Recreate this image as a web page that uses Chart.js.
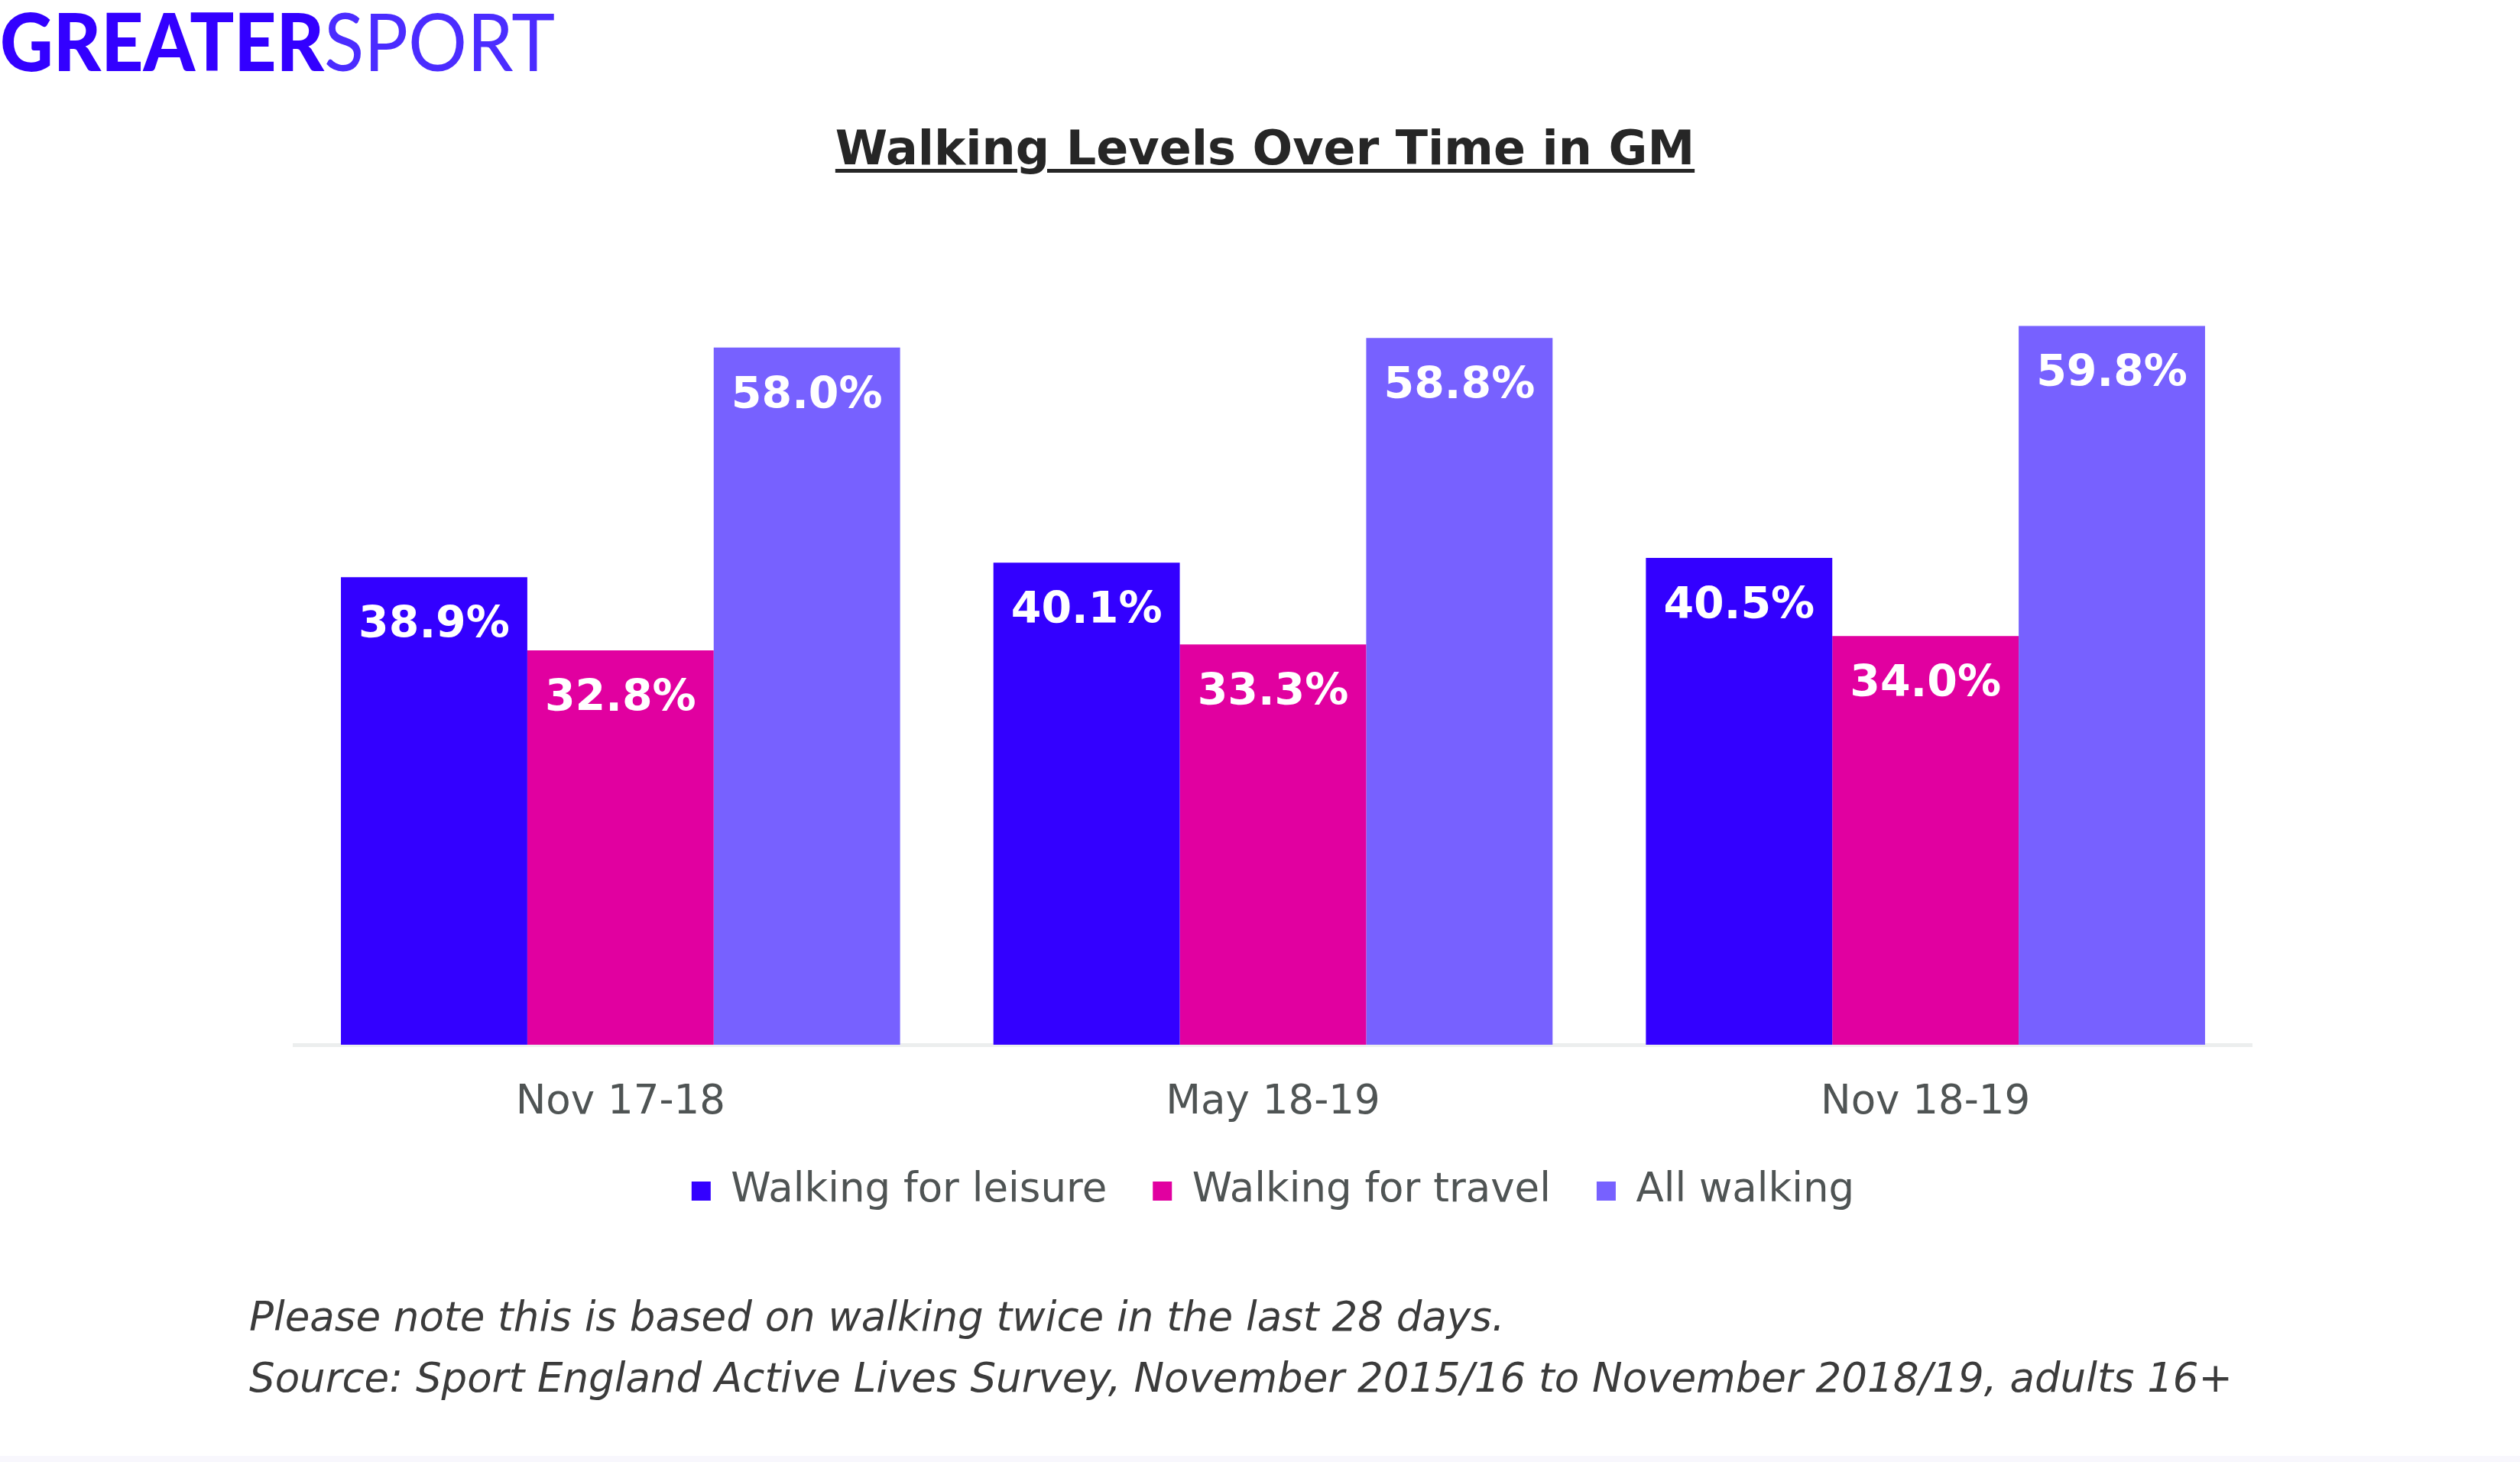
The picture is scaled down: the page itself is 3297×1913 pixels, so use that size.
<!DOCTYPE html>
<html>
<head>
<meta charset="utf-8">
<title>Walking Levels Over Time in GM</title>
<script src="https://cdn.jsdelivr.net/npm/chart.js@4.4.1/dist/chart.umd.min.js"></script>
<style>
    html, body { margin: 0; padding: 0; background: #ffffff; }
    body { width: 3297px; height: 1913px; position: relative; overflow: hidden; }
    #logo {
        position: absolute; left: 0; top: 0;
        font-family: Lato, sans-serif; font-size: 105px; line-height: 1;
        white-space: nowrap; transform-origin: 0 0;
    }
    #logo .strong { font-weight: 900; color: #3300ff; }
    #logo .soft { font-weight: 400; color: #4b2cff; }
    #title {
        position: absolute; left: 1655px; top: 163px; transform: translateX(-50%);
        font-family: "DejaVu Sans", sans-serif; font-weight: bold; font-size: 62px; line-height: 1;
        color: #262626; white-space: nowrap;
        text-decoration: underline; text-decoration-thickness: 5px; text-underline-offset: 6px;
    }
    #graph { position: absolute; left: 0; top: 0; }
    #notes {
        position: absolute; left: 326px; top: 1683px;
        font-family: "DejaVu Sans", sans-serif; font-style: italic; font-size: 53px; line-height: 80px;
        color: #3b3b3b; white-space: nowrap;
    }
    #edge { position: absolute; left: 0; right: 0; bottom: 0; height: 8px; background: #f8f7fd; }
</style>
</head>
<body>
<div id="logo"><span class="strong">GREATER</span><span class="soft">SPORT</span></div>
<div id="title">Walking Levels Over Time in GM</div>
<canvas id="graph" width="3297" height="1913"></canvas>
<div id="notes">
    <div>Please note this is based on walking twice in the last 28 days.</div>
    <div>Source: Sport England Active Lives Survey, November 2015/16 to November 2018/19, adults 16+</div>
</div>
<div id="edge"></div>
<script>
// Data
var categories = ['Nov 17-18', 'May 18-19', 'Nov 18-19'];
var seriesNames = ['Walking for leisure', 'Walking for travel', 'All walking'];
var leisureValues = [38.9, 40.1, 40.5];
var travelValues = [32.8, 33.3, 34.0];
var allWalkingValues = [58.0, 58.8, 59.8];

// stretch the logo to its width in the reference
var logo = document.getElementById('logo');
logo.style.transform = 'scaleX(' + (726 / logo.getBoundingClientRect().width) + ')';

// white value labels drawn inside the top of each bar
var barLabels = {
    id: 'barLabels',
    afterDatasetsDraw: function (chart) {
        var ctx = chart.ctx;
        ctx.save();
        ctx.fillStyle = '#ffffff';
        ctx.font = 'bold 57px "DejaVu Sans"';
        ctx.textAlign = 'center';
        ctx.textBaseline = 'middle';
        chart.data.datasets.forEach(function (ds, i) {
            chart.getDatasetMeta(i).data.forEach(function (bar, j) {
                ctx.fillText(ds.data[j].toFixed(1) + '%', bar.x, bar.y + 64);
            });
        });
        ctx.restore();
    }
};

var ctx = document.getElementById('graph').getContext('2d');
var myChart = new Chart(ctx, {
    type: 'bar',
    data: {
        labels: categories,
        datasets: [
            { label: seriesNames[0], data: leisureValues, backgroundColor: '#3300ff', borderWidth: 0 },
            { label: seriesNames[1], data: travelValues, backgroundColor: '#e100a0', borderWidth: 0 },
            { label: seriesNames[2], data: allWalkingValues, backgroundColor: '#7761ff', borderWidth: 0 }
        ]
    },
    options: {
        responsive: false,
        animation: false,
        categoryPercentage: 0.857,
        barPercentage: 1,
        layout: {
            padding: { top: 266, left: 385, right: 351, bottom: 318 }
        },
        scales: {
            x: {
                grid: { display: false, drawTicks: false },
                border: { display: true, color: '#eceeee', width: 5 },
                ticks: {
                    color: '#4f5454',
                    padding: 71,
                    font: { family: '"DejaVu Sans"', size: 53, lineHeight: 0.2 }
                },
                // fixed axis height so the legend sits where it does in the reference
                afterFit: function (scale) {
                    scale.height = 105;
                }
            },
            y: {
                display: false,
                min: 0,
                max: 70
            }
        },
        plugins: {
            tooltip: { enabled: false },
            legend: {
                position: 'bottom',
                labels: {
                    color: '#4f5454',
                    boxWidth: 25,
                    boxHeight: 25,
                    padding: 60,
                    font: { family: '"DejaVu Sans"', size: 53 }
                }
            }
        }
    },
    plugins: [barLabels]
});
</script>
</body>
</html>
